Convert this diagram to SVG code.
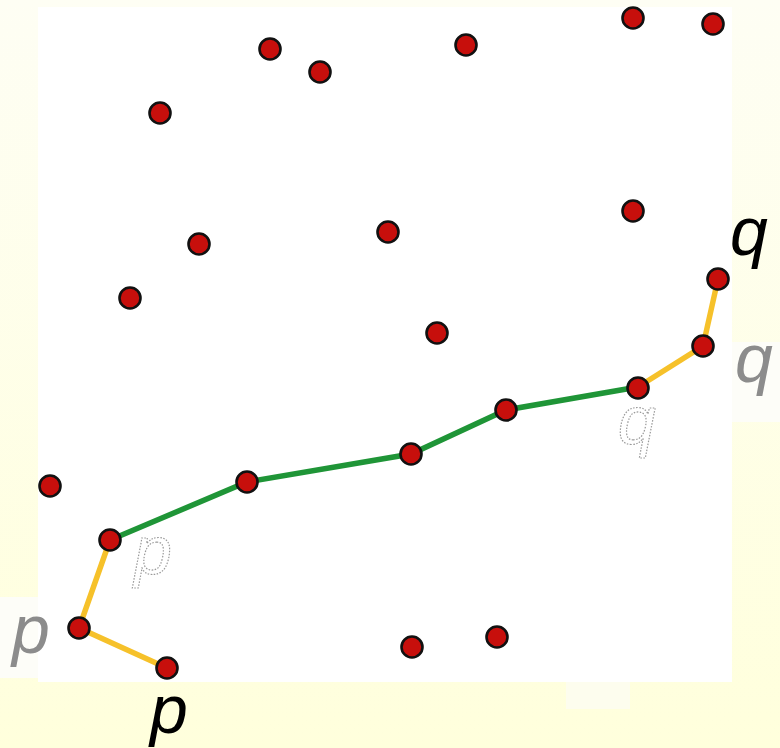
<svg xmlns="http://www.w3.org/2000/svg" width="780" height="748" viewBox="0 0 780 748">
<defs>
<linearGradient id="bg" x1="0" y1="0" x2="0" y2="1">
<stop offset="0" stop-color="#fefef4"/>
<stop offset="1" stop-color="#ffffdc"/>
</linearGradient>
</defs>
<style>
.n{fill:#c70f0c;stroke:#111;stroke-width:2.6}
.y{stroke:#f6c12a;stroke-width:5.5;fill:none;stroke-linecap:round}
.g{stroke:#1f9537;stroke-width:5.5;fill:none;stroke-linecap:round}
.big{font-family:"Liberation Sans",Arial,sans-serif;font-style:italic;font-size:68px}
.gray{fill:#8c8c8c}
.dot{fill:none;stroke:#9a9a9a;stroke-width:1.2;stroke-dasharray:1.5 1.5}
</style>
<rect x="0" y="0" width="780" height="748" fill="url(#bg)"/>
<rect x="38" y="7" width="694" height="675" fill="#fff"/>
<rect x="0" y="597" width="38" height="81" fill="#fdfdf8"/>
<rect x="732" y="342" width="48" height="80" fill="#fdfdf8"/>
<rect x="566" y="682" width="64" height="27" fill="#fdfdee"/>
<g id="connectors">
<polyline class="y" points="167,668 79,628 110,540"/>
<polyline class="g" points="110,540 247,482 411,454 506,410 638,387"/>
<polyline class="y" points="638,387 703,346 718,279"/>
</g>
<g id="n1"><circle class="n" cx="270" cy="49" r="10.5"/></g>
<g id="n2"><circle class="n" cx="320" cy="72" r="10.5"/></g>
<g id="n3"><circle class="n" cx="466" cy="45" r="10.5"/></g>
<g id="n4"><circle class="n" cx="633" cy="18" r="10.5"/></g>
<g id="n5"><circle class="n" cx="713" cy="24" r="10.5"/></g>
<g id="n6"><circle class="n" cx="160" cy="113" r="10.5"/></g>
<g id="n7"><circle class="n" cx="199" cy="244" r="10.5"/></g>
<g id="n8"><circle class="n" cx="388" cy="232" r="10.5"/></g>
<g id="n9"><circle class="n" cx="633" cy="211" r="10.5"/></g>
<g id="n10"><circle class="n" cx="130" cy="298" r="10.5"/></g>
<g id="n11"><circle class="n" cx="437" cy="333" r="10.5"/></g>
<g id="n12"><circle class="n" cx="718" cy="279" r="10.5"/></g>
<g id="n13"><circle class="n" cx="703" cy="346" r="10.5"/></g>
<g id="n14"><circle class="n" cx="638" cy="388" r="10.5"/></g>
<g id="n15"><circle class="n" cx="506" cy="410" r="10.5"/></g>
<g id="n16"><circle class="n" cx="411" cy="454" r="10.5"/></g>
<g id="n17"><circle class="n" cx="247" cy="482" r="10.5"/></g>
<g id="n18"><circle class="n" cx="110" cy="540" r="10.5"/></g>
<g id="n19"><circle class="n" cx="50" cy="486" r="10.5"/></g>
<g id="n20"><circle class="n" cx="79" cy="628" r="10.5"/></g>
<g id="n21"><circle class="n" cx="167" cy="668" r="10.5"/></g>
<g id="n22"><circle class="n" cx="412" cy="647" r="10.5"/></g>
<g id="n23"><circle class="n" cx="497" cy="637" r="10.5"/></g>
<g id="labels">
<text class="big" x="730" y="255">q</text>
<text class="big gray" x="735" y="382">q</text>
<text class="big dot" x="618" y="444">q</text>
<text class="big" x="150" y="733">p</text>
<text class="big gray" x="12" y="653">p</text>
<text class="big dot" x="134" y="574">p</text>
</g>
</svg>
